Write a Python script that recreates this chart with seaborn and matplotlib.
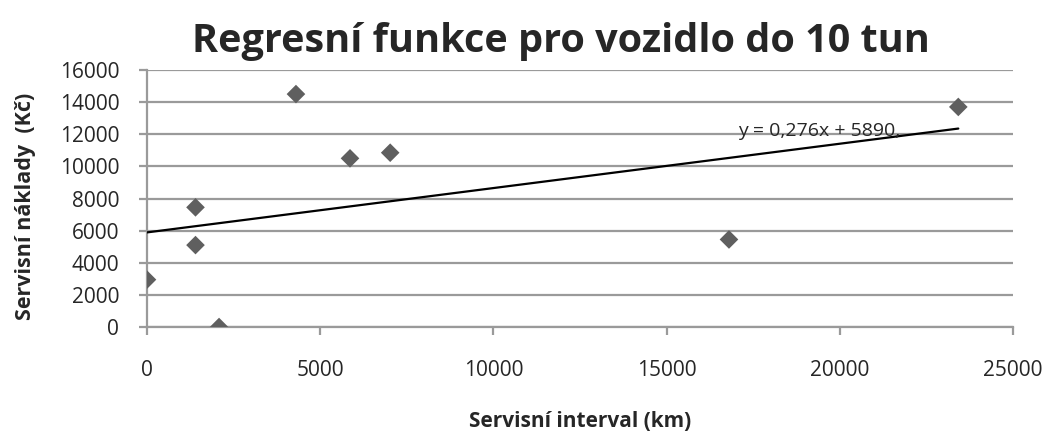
import numpy as np
import pandas as pd
import matplotlib
matplotlib.use("Agg")
import matplotlib.pyplot as plt
import seaborn as sns

# Data
interval_km = [0, 1400, 1400, 2080, 4300, 5860, 7020, 16800, 23420]
naklady_kc = [2950, 5100, 7450, 0, 14500, 10500, 10850, 5450, 13700]
slope = 0.276
intercept = 5890
equation_label = "y = 0,276x + 5890,"
x_ticks = [0, 5000, 10000, 15000, 20000, 25000]
y_ticks = [0, 2000, 4000, 6000, 8000, 10000, 12000, 14000, 16000]

df = pd.DataFrame({"interval": interval_km, "naklady": naklady_kc})

sns.set_style("white")
plt.rcParams["font.family"] = ["Open Sans", "DejaVu Sans"]

fig = plt.figure(figsize=(10.5, 4.32), dpi=100)
ax = fig.add_axes([0.14, 0.243, 0.8248, 0.595])

sns.scatterplot(data=df, x="interval", y="naklady", marker="D", s=90,
                color="#5f5f5f", edgecolor="none", ax=ax, zorder=3)

# trend line from the equation
xl = np.array([min(interval_km), max(interval_km)])
ax.plot(xl, slope * xl + intercept, color="black", lw=1.6, zorder=4)
ax.text(17050, 12200, equation_label, fontsize=14, va="center", ha="left", zorder=5)

ax.set_xlim(0, 25000)
ax.set_ylim(0, 16000)
ax.set_xticks(x_ticks)
ax.set_yticks(y_ticks)
ax.yaxis.grid(True, color="#9a9a9a", lw=1.6)
ax.set_axisbelow(True)
for side in ["top", "right"]:
    ax.spines[side].set_visible(False)
for side in ["left", "bottom"]:
    ax.spines[side].set_color("#9a9a9a")
    ax.spines[side].set_linewidth(1.6)
ax.tick_params(axis="both", which="both", length=6, width=1.6, color="#9a9a9a",
               direction="out", labelsize=15, left=True, bottom=True)
ax.tick_params(axis="x", pad=18)
ax.tick_params(axis="y", pad=14)

ax.set_xlabel("Servisní interval (km)", fontsize=15, fontweight="bold")
ax.xaxis.set_label_coords(0.5, -0.325)
ax.set_ylabel("Servisní náklady  (Kč)", fontsize=15.5, fontweight="bold")
ax.yaxis.set_label_coords(-0.128, 0.47)
fig.text(0.534, 0.905, "Regresní funkce pro vozidlo do 10 tun", fontsize=28.5,
         fontweight="bold", ha="center", va="center")

fig.savefig("out.png", dpi=100)
